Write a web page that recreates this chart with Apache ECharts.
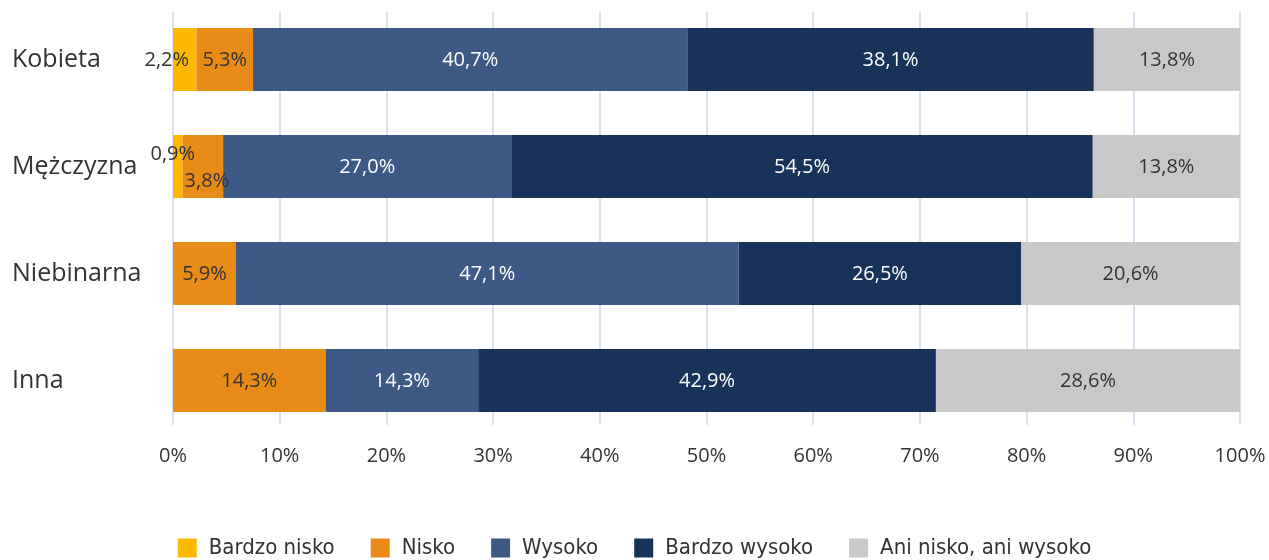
<!DOCTYPE html>
<html><head><meta charset="utf-8">
<script src="https://cdn.jsdelivr.net/npm/echarts@6/dist/echarts.min.js"></script>
<style>html,body{margin:0;padding:0;background:#fff}#c{width:1269px;height:560px}</style>
</head><body><div id="c"></div>
<script>
const categories = ['Kobieta', 'Mężczyzna', 'Niebinarna', 'Inna'];
const seriesNames = ['Bardzo nisko', 'Nisko', 'Wysoko', 'Bardzo wysoko', 'Ani nisko, ani wysoko'];
const bardzoNisko = [2.2, 0.9, null, null];
const nisko = [5.3, 3.8, 5.9, 14.3];
const wysoko = [40.7, 27.0, 47.1, 14.3];
const bardzoWysoko = [38.1, 54.5, 26.5, 42.9];
const aniNiskoAniWysoko = [13.8, 13.8, 20.6, 28.6];
const xTicks = [0, 10, 20, 30, 40, 50, 60, 70, 80, 90, 100];

const values = [bardzoNisko, nisko, wysoko, bardzoWysoko, aniNiskoAniWysoko];
const colors = ['#FDB900', '#E88C17', '#3D5A86', '#173359', '#C7C8C7'];
const labelColors = ['#333333', '#333333', '#ffffff', '#ffffff', '#333333'];
// label offsets for the narrow segments [seriesIndex][categoryIndex]
const offsets = {'0-0': [-18, 1], '0-1': [-5, -12], '1-1': [4, 15]};

const fmt = v => v.toFixed(1).replace('.', ',') + '%';

const series = values.map((arr, si) => ({
  name: seriesNames[si],
  type: 'bar',
  stack: 'all',
  xAxisIndex: 0, yAxisIndex: 0,
  barCategoryGap: '41%',
  itemStyle: {color: colors[si]},
  label: {
    show: true, position: 'inside', color: labelColors[si],
    fontFamily: 'Open Sans', fontSize: 20, offset: [0, 1],
    formatter: p => p.value == null ? '' : fmt(p.value)
  },
  data: arr.map((v, ci) => {
    const off = offsets[si + '-' + ci];
    if (v == null) return {value: null};
    return off ? {value: v, label: {offset: off}} : {value: v};
  })
}));

const chart = echarts.init(document.getElementById('c'));
chart.setOption({
  animation: false,
  color: colors,
  grid: [
    {left: 173, right: 29, top: 6, height: 428},
    {left: 173, right: 29, top: 12, height: 413}
  ],
  xAxis: [
    {gridIndex: 0, type: 'value', min: 0, max: 100, interval: 10, show: false},
    {gridIndex: 1, type: 'value', min: xTicks[0], max: xTicks[xTicks.length - 1], interval: 10,
     axisLine: {show: false}, axisTick: {show: false},
     splitLine: {show: true, lineStyle: {color: '#D9E2F0', width: 2}},
     axisLabel: {formatter: '{value}%', color: '#333333', fontFamily: 'Open Sans', fontSize: 20, margin: 21}}
  ],
  yAxis: [
    {gridIndex: 0, type: 'category', data: categories, inverse: true,
     axisLine: {show: false}, axisTick: {show: false}, splitLine: {show: false},
     axisLabel: {align: 'left', margin: 161, padding: [5, 0, 0, 0], color: '#333333', fontFamily: 'Open Sans', fontSize: 25}},
    {gridIndex: 1, type: 'value', show: false}
  ],
  legend: {
    bottom: 1, left: 'center', padding: 0, icon: 'rect', itemWidth: 19, itemHeight: 19, itemGap: 36,
    textStyle: {color: '#333333', fontFamily: 'DejaVu Sans Condensed', fontSize: 22, padding: [2, 0, 0, 7]},
    data: seriesNames
  },
  series: series
});
</script></body></html>
